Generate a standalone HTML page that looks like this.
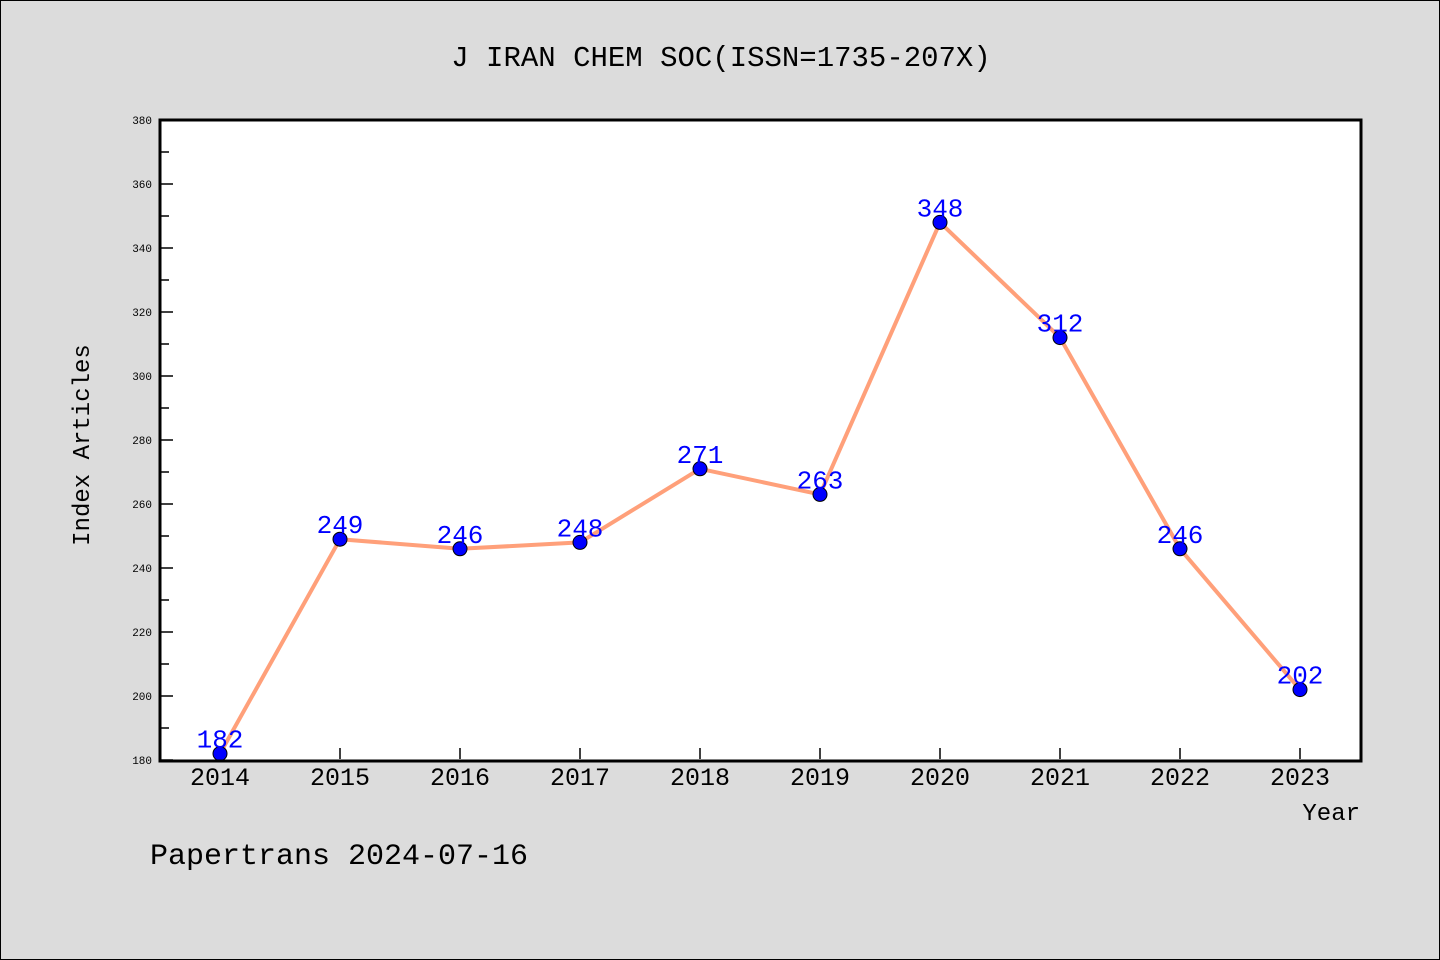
<!DOCTYPE html>
<html><head><meta charset="utf-8"><style>
body{margin:0;background:#dcdcdc;}
svg{display:block;font-family:"Liberation Mono",monospace;}
</style></head><body>
<svg id="chart" width="1440" height="960">
<rect x="0.5" y="0.5" width="1439" height="959" fill="#dcdcdc" stroke="#000"/>
<text x="721" y="66" text-anchor="middle" font-size="29" fill="#000">J IRAN CHEM SOC(ISSN=1735-207X)</text>
<rect x="160" y="120" width="1201" height="641" fill="#fff"/>
<g id="axes"></g>
<g id="marks"></g>
<rect x="160" y="120" width="1201" height="641" fill="none" stroke="#000" stroke-width="3"/>
<text transform="translate(89,445) rotate(-90)" text-anchor="middle" font-size="24" fill="#000">Index Articles</text>
<text x="1360" y="820" text-anchor="end" font-size="24" fill="#000">Year</text>
<text x="150" y="864" font-size="30" fill="#000">Papertrans 2024-07-16</text>
</svg>
<script>
const years=["2014","2015","2016","2017","2018","2019","2020","2021","2022","2023"];
const counts=[182,249,246,248,271,263,348,312,246,202];
const yTicks=[180,200,220,240,260,280,300,320,340,360,380];
const NS="http://www.w3.org/2000/svg";
const yMin=180,yMax=380,yTop=120,yBot=760;
function yS(v){return yBot-(v-yMin)/(yMax-yMin)*(yBot-yTop);}
function xS(i){return 220+i*120;}
const axes=document.getElementById('axes'),marks=document.getElementById('marks');
function mk(tag,attrs,parent){const e=document.createElementNS(NS,tag);for(const k in attrs)e.setAttribute(k,attrs[k]);parent.appendChild(e);return e;}
yTicks.forEach((v,i)=>{
  const y=yS(v);
  const t=mk('line',{x1:161,x2:173,y1:y,y2:y,stroke:'#000','stroke-width':1.5},axes);
  
  
  const l=mk('text',{x:152,y:y+4,'text-anchor':'end','font-size':11,fill:'#000'},axes);
  l.textContent=v;
  
  
  if(i<yTicks.length-1){
    const ym=yS(v+10);
    const m=mk('line',{x1:161,x2:169,y1:ym,y2:ym,stroke:'#000','stroke-width':1.5},axes);
    
    
  }
});
years.forEach((yr,i)=>{
  const x=xS(i);
  const t=mk('line',{x1:x,x2:x,y1:759,y2:748,stroke:'#000','stroke-width':1.5},axes);
  
  
  const l=mk('text',{x:x,y:785,'text-anchor':'middle','font-size':25,fill:'#000'},axes);
  l.textContent=yr;
  
  
});
const pts=counts.map((v,i)=>xS(i)+','+yS(v)).join(' ');
const line=mk('polyline',{points:pts,fill:'none',stroke:'#ffa07a','stroke-width':4,'stroke-linejoin':'round'},marks);


counts.forEach((v,i)=>{
  const c=mk('circle',{cx:xS(i),cy:yS(v),r:7,fill:'#0000ff',stroke:'#000','stroke-width':1},marks);
  
  
  const l=mk('text',{x:xS(i),y:yS(v)-6,'text-anchor':'middle','font-size':26,fill:'#0000ff'},marks);
  l.textContent=v;
  
  
});
</script>
</body></html>
